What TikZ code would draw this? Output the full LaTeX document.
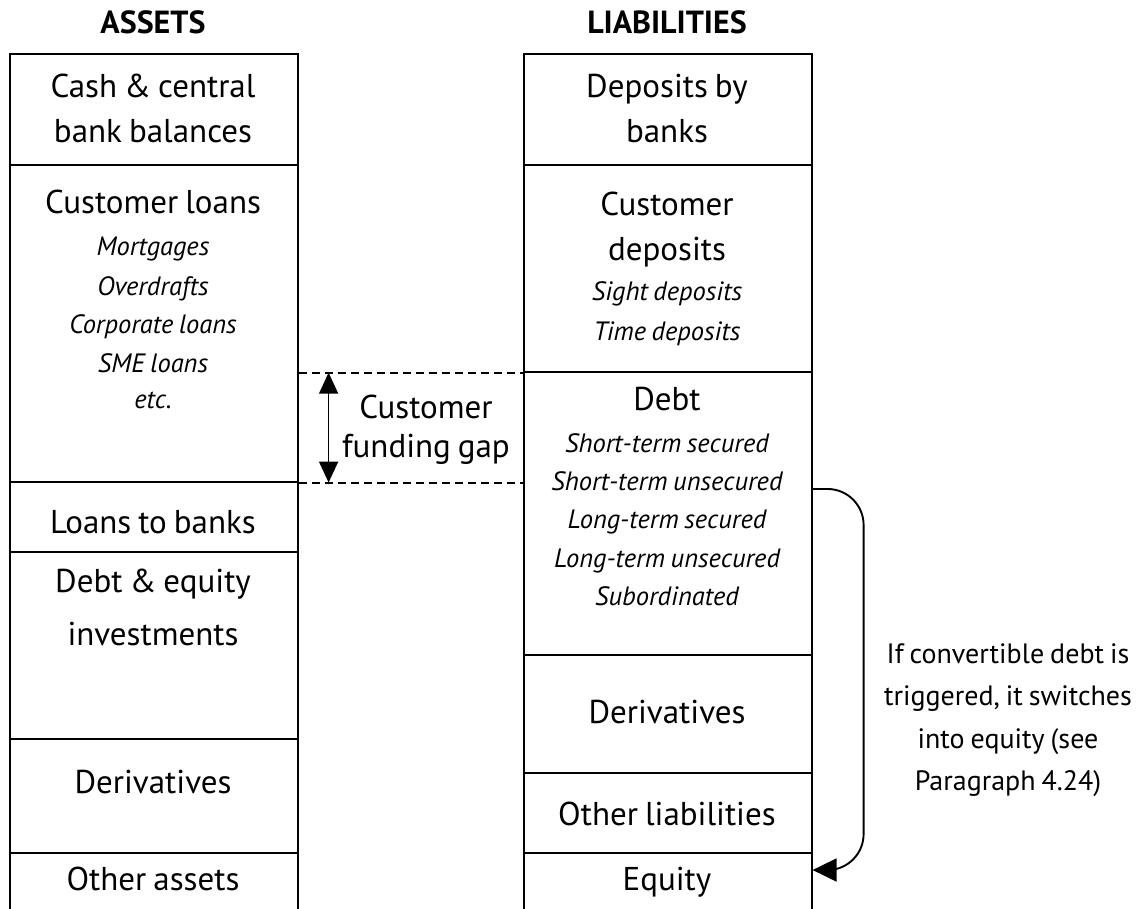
\documentclass[tikz,border=0pt]{standalone}
\usepackage{fontspec}
\setmainfont{PT Sans}[WordSpace=0.8]
\usetikzlibrary{arrows.meta,calc}

\begin{document}
\begin{tikzpicture}[x=1pt,y=-1pt,
  cellbox/.style={draw, line width=1.6pt, minimum width=288pt, inner sep=0pt, anchor=north west},
  lbl/.style={anchor=base, inner sep=0pt, font=\fontsize{33}{38}\selectfont},
  sub/.style={anchor=base, inner sep=0pt, font=\fontsize{26.5}{30}\selectfont\itshape},
  note/.style={anchor=base, inner sep=0pt, font=\fontsize{28}{33}\selectfont},
  head/.style={anchor=base, inner sep=0pt, font=\fontsize{32}{36}\selectfont\bfseries},
  gapline/.style={dashed, dash pattern=on 8pt off 5pt, line width=1.8pt},
  gaparrow/.style={line width=1.5pt, {Triangle[length=21pt,width=19pt]}-{Triangle[length=21pt,width=19pt]}},
  convarrow/.style={line width=1.9pt, rounded corners=36pt, -{Triangle[length=24pt,width=23pt]}}]
\useasboundingbox (0,0) rectangle (1145,908);

% column headings
\node[head] (hA) at (153,33) {ASSETS};
\node[head] (hL) at (667,33) {LIABILITIES};

% asset cells
\node[cellbox, minimum height=111pt] (cash)   at (9,53)  {};
\node[cellbox, minimum height=317pt] (loans)  at (9,164) {};
\node[cellbox, minimum height=70pt]  (lbanks) at (9,481) {};
\node[cellbox, minimum height=187pt] (invest) at (9,551) {};
\node[cellbox, minimum height=114pt] (aderiv) at (9,738) {};
\node[cellbox, minimum height=80pt]  (aother) at (9,852) {};

% liability cells
\node[cellbox, minimum height=111pt] (dbanks) at (523,53)  {};
\node[cellbox, minimum height=207pt] (cdep)   at (523,164) {};
\node[cellbox, minimum height=283pt] (debt)   at (523,371) {};
\node[cellbox, minimum height=118pt] (lderiv) at (523,654) {};
\node[cellbox, minimum height=80pt]  (lother) at (523,772) {};
\node[cellbox, minimum height=80pt]  (equity) at (523,852) {};

% asset labels
\node[lbl] (t1) at (153,97)  {Cash \& central};
\node[lbl] (t2) at (153,142) {bank balances};
\node[lbl] (t3) at (153,213) {Customer loans};
\node[sub] (s1) at (153,255) {Mortgages};
\node[sub] (s2) at (153,295) {Overdrafts};
\node[sub] (s3) at (153,333) {Corporate loans};
\node[sub] (s4) at (153,372) {SME loans};
\node[sub] (s5) at (153,408) {etc.};
\node[lbl] (t4) at (153,533) {Loans to banks};
\node[lbl] (t5) at (153,592) {Debt \& equity};
\node[lbl] (t6) at (153,645) {investments};
\node[lbl] (t7) at (153,793) {Derivatives};
\node[lbl] (t8) at (153,890) {Other assets};

% liability labels
\node[lbl] (u1) at (667,97)  {Deposits by};
\node[lbl] (u2) at (667,142) {banks};
\node[lbl] (u3) at (667,215) {Customer};
\node[lbl] (u4) at (667,260) {deposits};
\node[sub] (v1) at (667,300) {Sight deposits};
\node[sub] (v2) at (667,340) {Time deposits};
\node[lbl] (u5) at (667,410) {Debt};
\node[sub] (v3) at (667,452) {Short-term secured};
\node[sub] (v4) at (667,490) {Short-term unsecured};
\node[sub] (v5) at (667,528) {Long-term secured};
\node[sub] (v6) at (667,567) {Long-term unsecured};
\node[sub] (v7) at (667,605) {Subordinated};
\node[lbl] (u6) at (667,723) {Derivatives};
\node[lbl] (u7) at (667,825) {Other liabilities};
\node[lbl] (u8) at (667,890) {Equity};

% customer funding gap
\draw[gapline] (cdep.south west -| loans.east) -- (cdep.south west);
\draw[gapline] (loans.south east) -- (loans.south east -| debt.west);
\coordinate (gtop) at ($(cdep.south west -| loans.east)+(30,0)$);
\coordinate (gbot) at ($(loans.south east)+(30,0)$);
\draw[gaparrow] (gtop) -- (gbot);
\node[lbl] (g1) at (426,418) {Customer};
\node[lbl] (g2) at (426,457) {funding gap};

% conversion of debt into equity
\coordinate (cvfrom) at ($(debt.north east)+(0,118)$);
\coordinate (cvto)   at ($(equity.north east)+(0,18)$);
\draw[convarrow] (cvfrom) -- ++(51,0) |- (cvto);
\node[note] (n1) at (1008,663) {If convertible debt is};
\node[note] (n2) at (1008,705) {triggered, it switches};
\node[note] (n3) at (1008,748) {into equity (see};
\node[note] (n4) at (1008,790) {Paragraph 4.24)};
\end{tikzpicture}
\end{document}
